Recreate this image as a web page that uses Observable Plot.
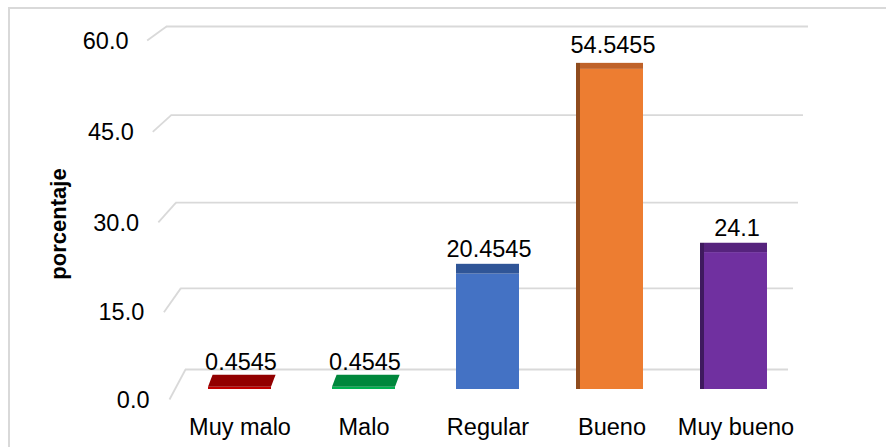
<!DOCTYPE html>
<html><head><meta charset="utf-8">
<script src="https://cdn.jsdelivr.net/npm/d3@7"></script>
<script src="https://cdn.jsdelivr.net/npm/@observablehq/plot@0.6"></script>
<style>
body{margin:0;background:#fff;}
#chart{position:relative;width:886px;height:447px;overflow:hidden;font-family:"Liberation Sans",Arial,sans-serif;}
#frame{position:absolute;left:8px;top:7px;width:900px;height:470px;border:2px solid #d9d9d9;box-sizing:border-box;}
#chart svg{position:absolute;left:0;top:0;overflow:visible;}
g[aria-description="flat-cap"] rect{transform-box:fill-box;transform-origin:50% 100%;transform:skewX(-21deg);}
</style></head><body><div id="chart"><div id="frame"></div></div>
<script>
// ---- data ----
const categories = ["Muy malo", "Malo", "Regular", "Bueno", "Muy bueno"];
const values = [0.4545, 0.4545, 20.4545, 54.5455, 24.1];
const valueLabels = ["0.4545", "0.4545", "20.4545", "54.5455", "24.1"];
const yTicks = [0, 15, 30, 45, 60];
const yTitle = "porcentaje";
const faceColors = ["#c00000", "#00b050", "#4472c4", "#ed7d31", "#7030a0"];
const capColors = ["#920000", "#00873c", "#2f5597", "#bf6229", "#56237d"];
const sideColors = [null, null, null, "#8f4b1d", "#3f1a5e"];

// ---- pseudo-3D geometry (Excel-style perspective) ----
const font = '"Liberation Sans", Arial, sans-serif';
const yBarOpts = {type: "pow", exponent: 1.04, domain: [0, 60], range: [389, 35.5]};
const barScale = Plot.scale({y: yBarOpts});
const wallScale = Plot.scale({y: {type: "pow", exponent: 1.04, domain: [0, 60], range: [369, 26]}});
const frontScale = Plot.scale({y: {type: "pow", exponent: 1.02, domain: [0, 60], range: [399, 40]}});
const frontX = v => 169 - 0.372 * v;
const backLeft = v => 185 - 0.317 * v;
const backRight = v => 788 + 0.333 * v;
const labelRight = v => 149 - 0.35 * v;
const capTop = v => barScale.invert(barScale.apply(v) - (12 - 0.11 * v));
const labelPos = v => barScale.invert(barScale.apply(capTop(v)) - (5 + 0.09 * v));

const data = categories.map((cat, i) => ({
  cat, value: values[i], label: valueLabels[i],
  face: faceColors[i], capColor: capColors[i], side: sideColors[i],
  cap: capTop(values[i]), labelY: labelPos(values[i])
}));
const fmt = d3.format(".1f");

// ---- back wall, gridlines, y tick labels, y title ----
const wall = Plot.plot({
  width: 886, height: 447, margin: 0,
  style: {background: "transparent", fontFamily: font, fontSize: "23.5px", color: "#000"},
  x: {type: "identity", axis: null},
  y: {type: "identity", axis: null},
  marks: [
    Plot.link(yTicks, {x1: frontX, y1: v => frontScale.apply(v), x2: backLeft, y2: v => wallScale.apply(v), stroke: "#d9d9d9", strokeWidth: 1.8}),
    Plot.ruleY(yTicks, {y: v => wallScale.apply(v), x1: backLeft, x2: backRight, stroke: "#d9d9d9", strokeWidth: 1.8}),
    Plot.text(yTicks, {x: labelRight, y: v => frontScale.apply(v), text: fmt, textAnchor: "end", lineAnchor: "middle", dy: 0.5, fontSize: 23.5, fill: "#000"}),
    Plot.text([yTitle], {frameAnchor: "left", dx: 58, rotate: -90, text: d => d, fontWeight: "bold", fontSize: 22, textAnchor: "middle", lineAnchor: "middle", fill: "#000"})
  ]
});

// ---- bars ----
const bars = Plot.plot({
  width: 886, height: 447,
  marginLeft: 176, marginRight: 88, marginTop: 35, marginBottom: 58,
  style: {background: "transparent", fontFamily: font, fontSize: "23.5px", color: "#000"},
  x: {domain: categories, range: [175.75, 798.25], paddingInner: 0.494, paddingOuter: 0.247, tickSize: 0, tickPadding: 29, label: null},
  y: {...yBarOpts, axis: null},
  color: {type: "identity"},
  marks: [
    Plot.barY(data.filter(d => d.side), {x: "cat", y1: 0, y2: "cap", fill: "side", dx: -4, insetRight: 59}),
    Plot.barY(data, {x: "cat", y1: 0, y2: "value", fill: "face"}),
    Plot.barY(data.filter(d => d.value >= 1), {x: "cat", y1: "value", y2: "cap", fill: "capColor"}),
    Plot.barY(data.filter(d => d.value < 1), {x: "cat", y1: "value", y2: "cap", fill: "capColor", ariaDescription: "flat-cap"}),
    Plot.text(data, {x: "cat", y: "labelY", text: "label", lineAnchor: "bottom", dx: 1, fontSize: 23.5, fill: "#000"})
  ]
});

const chart = document.getElementById("chart");
chart.appendChild(wall);
chart.appendChild(bars);
</script>
</body></html>
